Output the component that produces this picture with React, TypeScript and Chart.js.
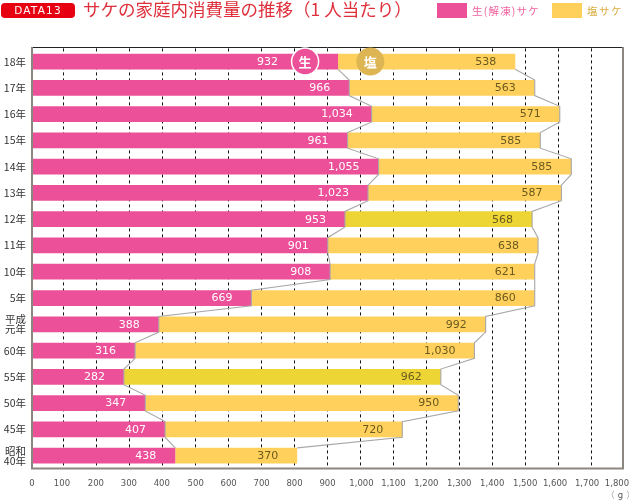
import { useEffect, useRef } from "react";
import { Chart, registerables } from "chart.js";

Chart.register(...registerables);

const categories: (string | string[])[] = ["18年", "17年", "16年", "15年", "14年", "13年", "12年", "11年", "10年", "5年", ["平成", "元年"], "60年", "55年", "50年", "45年", ["昭和", "40年"]];
const rawSalmon = [932, 966, 1034, 961, 1055, 1023, 953, 901, 908, 669, 388, 316, 282, 347, 407, 438];
const saltedSalmon = [538, 563, 571, 585, 585, 587, 568, 638, 621, 860, 992, 1030, 962, 950, 720, 370];
const highlightedRows = ["12年", "55年"];
const xTicks = [0, 100, 200, 300, 400, 500, 600, 700, 800, 900, 1000, 1100, 1200, 1300, 1400, 1500, 1600, 1700, 1800];
const xTickNudge = [1, -2, -1, -1, -1, 0, 0, 0, 0, 0, 1, 0, 0, 0, 0, 0, -3, -4, -7];

const PINK = "#EC5099";
const YELLOW = "#FFD15C";
const MUSTARD = "#EDD535";
const FONT = '"DejaVu Sans", sans-serif';
const CJK = '"Noto Sans CJK JP", sans-serif';

const overlay = {
  id: "overlay",
  beforeDraw(chart: any) {
    const xs = chart.scales.x;
    xs.getLabelItems().forEach((it: any, i: number) => {
      if (!it.__moved) {
        it.options.translation[0] += xTickNudge[i] || 0;
        it.__moved = true;
      }
    });
  },
  afterDatasetsDraw(chart: any) {
    const { ctx, chartArea: a, scales } = chart;
    const x = scales.x;
    const y = scales.y;
    const half = 7.8;
    ctx.save();
    // connector lines between consecutive rows
    ctx.strokeStyle = "#A8A8A8";
    ctx.lineWidth = 1.1;
    const line = (v: (i: number) => number) => {
      ctx.beginPath();
      categories.forEach((_, i) => {
        const cy = y.getPixelForValue(i);
        const px = x.getPixelForValue(v(i));
        if (i === 0) ctx.moveTo(px, cy + half);
        else {
          ctx.lineTo(px, cy - half);
          if (i < categories.length - 1) ctx.lineTo(px, cy + half);
        }
      });
      ctx.stroke();
    };
    line((i) => rawSalmon[i]);
    line((i) => rawSalmon[i] + saltedSalmon[i]);

    // frame
    ctx.strokeStyle = "#222";
    ctx.lineWidth = 1;
    ctx.beginPath();
    ctx.moveTo(a.left, a.top - 0.9);
    ctx.lineTo(a.right, a.top - 0.9);
    ctx.stroke();
    ctx.strokeStyle = "#8C8680";
    ctx.lineWidth = 2;
    ctx.beginPath();
    ctx.moveTo(a.left + 1, a.top - 1.4);
    ctx.lineTo(a.left + 1, a.bottom - 0.4);
    ctx.lineTo(a.right - 1, a.bottom - 0.4);
    ctx.lineTo(a.right - 1, a.top - 1.4);
    ctx.stroke();

    // value labels
    ctx.font = `11px ${FONT}`;
    ctx.textAlign = "right";
    ctx.textBaseline = "middle";
    categories.forEach((_, i) => {
      const cy = y.getPixelForValue(i) + 0.5;
      const rawEnd = x.getPixelForValue(rawSalmon[i]);
      const total = x.getPixelForValue(rawSalmon[i] + saltedSalmon[i]);
      ctx.fillStyle = "#FFFFFF";
      ctx.fillText(rawSalmon[i].toLocaleString("en-US"), rawEnd - (i === 0 ? 60 : 19), cy);
      ctx.fillStyle = "#6B5A1E";
      ctx.fillText(saltedSalmon[i].toLocaleString("en-US"), total - 19, cy);
    });

    // badges on first row
    const cy0 = y.getPixelForValue(0);
    const badge = (cx: number, r: number, fill: string, ring: boolean, t: string) => {
      ctx.beginPath();
      ctx.arc(cx, cy0, r, 0, Math.PI * 2);
      ctx.fillStyle = fill;
      ctx.fill();
      if (ring) {
        ctx.strokeStyle = "#FFFFFF";
        ctx.lineWidth = 1.5;
        ctx.stroke();
      }
      ctx.fillStyle = "#FFFFFF";
      ctx.font = `bold 13px ${CJK}`;
      ctx.textAlign = "center";
      ctx.fillText(t, cx, cy0 + 0.5);
    };
    badge(x.getPixelForValue(832), 13.5, PINK, true, "生");
    badge(x.getPixelForValue(1030), 14, "#DDB552", false, "塩");
    ctx.restore();
  },
};

export default function App() {
  const ref = useRef<HTMLCanvasElement>(null);
  useEffect(() => {
    const chart = new Chart(ref.current!, {
      type: "bar",
      plugins: [overlay],
      data: {
        labels: categories as any,
        datasets: [
          { label: "生(解凍)サケ", data: rawSalmon, backgroundColor: PINK, borderWidth: 0 },
          {
            label: "塩サケ",
            data: saltedSalmon,
            backgroundColor: categories.map((c) => (highlightedRows.includes(c as string) ? MUSTARD : YELLOW)),
            borderWidth: 0,
          },
        ] as any,
      },
      options: {
        animation: false,
        responsive: false,
        indexAxis: "y",
        layout: { padding: { top: 48.4, right: 5, left: 0, bottom: 0 } },
        datasets: { bar: { categoryPercentage: 1, barPercentage: 0.6 } },
        plugins: { legend: { display: false }, title: { display: false }, tooltip: { enabled: false } },
        scales: {
          x: {
            type: "linear",
            stacked: true,
            min: 0,
            max: 1800,
            afterBuildTicks: (s: any) => { s.ticks = xTicks.map((value) => ({ value })); },
            afterFit: (s: any) => { s.height = 32.2; s.paddingLeft = 0; s.paddingRight = 0; },
            grid: {
              color: (c: any) => (c.tick && (c.tick.value === 0 || c.tick.value === 1800) ? "transparent" : "#111"),
              lineWidth: 1,
              drawTicks: false,
            },
            border: { display: false, dash: [3, 3] },
            ticks: {
              autoSkip: false,
              maxRotation: 0,
              padding: 10,
              color: "#555",
              font: { family: FONT, size: 8.5 },
              callback: (v: any) => Number(v).toLocaleString("en-US"),
            },
          },
          y: {
            stacked: true,
            afterFit: (s: any) => { s.width = 31; s.paddingTop = 0; s.paddingBottom = 0; },
            grid: { display: false, drawTicks: false },
            border: { display: false },
            ticks: {
              padding: 5,
              autoSkip: false,
              color: "#333",
              font: { family: CJK, size: 10.5, lineHeight: 0.95 },
            },
          },
        },
      } as any,
    });
    return () => chart.destroy();
  }, []);

  return (
    <div style={{ position: "fixed", left: 0, top: 0, width: 629, height: 501, background: "#fff", overflow: "hidden", fontFamily: CJK }}>
      <canvas ref={ref} width={629} height={501} style={{ position: "absolute", left: 0, top: 0 }} />
      <div style={{ position: "absolute", left: 1, top: 3, width: 74, height: 15, borderRadius: 4, background: "#E60012", color: "#fff", fontFamily: FONT, fontSize: 10.5, lineHeight: "15px", textAlign: "center", letterSpacing: 1.2 }}>DATA13</div>
      <div style={{ position: "absolute", left: 83, top: -3, color: "#DF2F3B", fontSize: 17.5, lineHeight: "24px", whiteSpace: "nowrap" }}>サケの家庭内消費量の推移（1 人当たり）</div>
      <div style={{ position: "absolute", left: 437, top: 3, width: 30, height: 15, background: PINK }} />
      <div style={{ position: "absolute", left: 472, top: 2, color: "#F0609F", fontSize: 10.5, lineHeight: "17px", whiteSpace: "nowrap", letterSpacing: 1.2 }}>生(解凍)サケ</div>
      <div style={{ position: "absolute", left: 552, top: 3, width: 30, height: 15, background: YELLOW }} />
      <div style={{ position: "absolute", left: 587, top: 2, color: "#D9AC3C", fontSize: 10.5, lineHeight: "17px", whiteSpace: "nowrap", letterSpacing: 1.5 }}>塩サケ</div>
      <div style={{ position: "absolute", left: 606, top: 490, color: "#555", fontFamily: FONT, fontSize: 8.5, lineHeight: "11px", whiteSpace: "nowrap" }}>〈 g 〉</div>
    </div>
  );
}
